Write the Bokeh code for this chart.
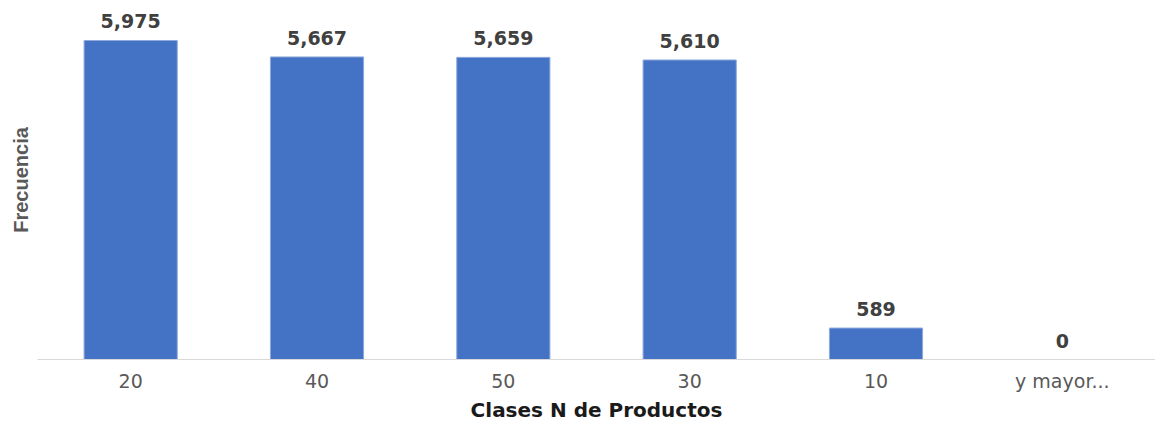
from bokeh.plotting import figure
from bokeh.models import ColumnDataSource, LabelSet, Range1d
from bokeh.core.properties import value
from bokeh.embed import file_html
from bokeh.resources import INLINE

categories = ["20", "40", "50", "30", "10", "y mayor..."]
frecuencia = [5975, 5667, 5659, 5610, 589, 0]
labels = ["5,975", "5,667", "5,659", "5,610", "589", "0"]

src = ColumnDataSource(dict(cat=categories, val=frecuencia, lab=labels))

p = figure(x_range=categories, y_range=Range1d(0, 6724), width=1155, height=424,
           output_backend="svg", toolbar_location=None,
           min_border_left=37, min_border_right=0, min_border_top=0, min_border_bottom=65)
p.vbar(x="cat", top="val", width=0.5, source=src, color="#4472C4", line_color="#8faadc", line_width=1)

p.add_layout(LabelSet(x="cat", y="val", text="lab", source=src, text_align="center",
                      text_baseline="alphabetic", y_offset=12, text_font=value("DejaVu Sans"),
                      text_font_style="bold", text_font_size="19px", text_color="#404040"))

p.outline_line_color = None
p.grid.grid_line_color = None
p.background_fill_color = "white"
p.border_fill_color = "white"

xa = p.xaxis[0]
xa.axis_line_color = "#d9d9d9"
xa.axis_line_width = 1
xa.major_tick_line_color = None
xa.minor_tick_line_color = None
xa.major_label_text_font = "DejaVu Sans"
xa.major_label_text_font_size = "19px"
xa.major_label_text_color = "#595959"
xa.major_label_standoff = 4
xa.axis_label = "Clases N de Productos"
xa.axis_label_text_font = "DejaVu Sans"
xa.axis_label_text_font_style = "bold"
xa.axis_label_text_font_size = "20px"
xa.axis_label_text_color = "#1a1a1a"
xa.axis_label_standoff = 3

ya = p.yaxis[0]
ya.axis_line_color = None
ya.major_tick_line_color = None
ya.minor_tick_line_color = None
ya.major_label_text_font_size = "0px"
ya.major_label_text_color = None
ya.axis_label = "Frecuencia"
ya.axis_label_text_font = "Liberation Sans"
ya.axis_label_text_font_style = "bold"
ya.axis_label_text_font_size = "20px"
ya.axis_label_text_color = "#595959"
ya.axis_label_standoff = 0

open("out.html", "w").write(file_html(p, INLINE))
